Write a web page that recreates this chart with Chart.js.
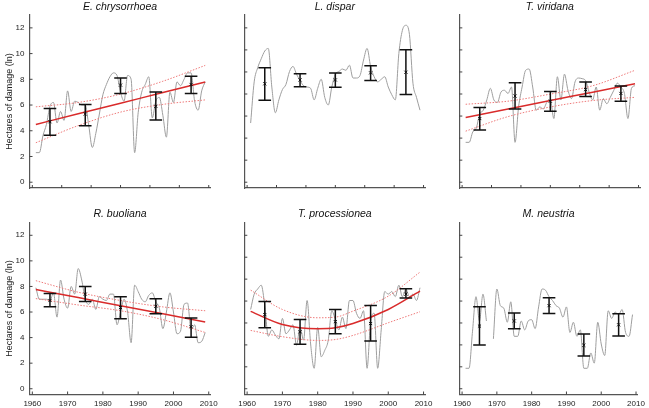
<!DOCTYPE html>
<html>
<head>
<meta charset="utf-8">
<script src="https://cdn.jsdelivr.net/npm/chart.js@4.4.1/dist/chart.umd.min.js"></script>
<style>
  body { margin: 0; background: #fff; }
  #wrap { position: relative; width: 649px; height: 408px; }
  #wrap canvas { position: absolute; left: 0; top: 0; }
</style>
</head>
<body>
<div id="wrap"></div>
<script>
// yearly values, ln(hectares of damage)
const years = [1961,1962,1963,1964,1965,1966,1967,1968,1969,1970,
               1971,1972,1973,1974,1975,1976,1977,1978,1979,1980,
               1981,1982,1983,1984,1985,1986,1987,1988,1989,1990,
               1991,1992,1993,1994,1995,1996,1997,1998,1999,2000,
               2001,2002,2003,2004,2005,2006,2007,2008,2009];

const titles = ['E. chrysorrhoea', 'L. dispar', 'T. viridana',
                'R. buoliana', 'T. processionea', 'M. neustria'];

const chrysorrhoea = [2.3,2.3,3.6,4.5,5.9,6.2,4.6,5.5,4.8,7.1,
                      5.5,6.3,6.2,6.0,6.0,4.4,2.7,3.8,5.3,6.8,
                      7.6,8.2,8.5,8.3,7.0,6.3,8.3,8.0,2.3,5.4,
                      7.0,7.6,8.2,5.0,6.3,6.6,5.2,3.5,7.0,6.2,
                      7.8,7.5,8.0,8.5,8.5,6.3,5.6,7.1,7.8];
const dispar = [4.6,7.8,8.9,9.6,10.2,10.4,7.4,5.4,6.4,7.2,
                7.6,8.6,9.0,8.4,7.9,7.5,7.4,7.3,6.4,7.3,
                8.0,6.6,6.0,7.4,8.4,8.6,8.8,8.7,9.1,8.1,
                8.1,8.3,9.5,10.4,9.0,8.2,7.8,8.0,8.2,7.4,
                6.8,6.4,10.0,11.8,12.2,11.5,7.7,6.6,5.6];
const viridana = [3.1,3.1,3.9,4.2,5.3,5.6,6.4,7.3,6.4,6.2,
                  7.0,7.15,6.9,7.4,3.1,5.85,7.4,8.7,8.8,7.4,
                  5.6,5.85,5.7,6.2,6.4,4.95,8.2,6.4,8.4,7.15,
                  6.5,7.8,8.1,8.05,7.9,7.0,6.4,7.4,5.6,6.5,
                  6.1,6.6,7.15,7.7,7.4,6.9,4.95,7.3,7.5];
const buoliana = [7.9,7.0,7.0,7.0,6.9,7.5,5.6,8.5,7.0,6.3,
                  8.0,7.4,9.4,8.5,7.0,6.6,7.0,6.2,7.2,7.0,
                  6.9,7.4,7.4,5.0,6.0,7.0,6.0,3.6,8.1,7.6,
                  7.0,6.8,7.3,7.5,6.8,6.3,4.7,6.0,7.5,6.0,
                  4.3,4.5,6.6,6.7,4.6,5.0,3.6,3.7,4.4];
const processionea = [6.2,7.4,7.8,8.1,6.5,4.1,4.6,4.2,3.9,5.5,
                      4.3,4.6,5.0,3.4,4.8,3.8,6.9,3.5,1.6,4.8,
                      2.5,3.0,3.8,6.1,5.4,4.6,5.6,4.7,6.9,6.9,
                      5.9,5.5,6.1,1.6,5.3,5.9,1.6,4.6,7.6,7.4,
                      7.6,7.2,8.1,7.2,7.8,7.2,7.4,6.9,7.9];
const neustria = [1.6,1.6,4.5,7.2,5.3,7.4,5.3,null,3.9,7.8,
                  6.5,6.3,5.2,6.8,4.1,4.1,5.3,4.6,5.3,5.4,
                  4.7,6.4,7.8,7.7,7.2,6.9,6.5,6.3,5.6,6.4,
                  4.4,5.2,4.1,4.6,1.6,1.6,2.8,2.0,5.2,3.5,
                  2.6,6.1,5.5,6.0,5.8,6.2,4.4,4.1,5.8];
const series = [chrysorrhoea, dispar, viridana, buoliana, processionea, neustria];

// decade means with error bars
const decades = [1965, 1975, 1985, 1995, 2005];
const decMean = [[4.7,5.3,7.55,5.9,7.6], [7.65,7.95,7.95,8.5,8.55], [4.95,6.7,6.3,7.2,6.9],
                 [6.9,7.4,6.35,6.45,4.85], [5.8,4.45,5.25,5.1,7.4], [4.9,5.3,6.5,3.4,5.0]];
const decLow  = [[3.66,4.39,6.89,4.83,6.89], [6.37,7.43,7.38,7.9,6.81], [4.05,5.7,5.52,6.66,6.3],
                 [6.41,6.83,5.47,5.86,4.02], [4.77,3.47,4.3,3.73,7.09], [3.42,4.69,5.89,2.56,4.12]];
const decHigh = [[5.73,6.04,8.1,7.02,8.23], [8.9,8.44,8.49,9.06,10.3], [5.8,7.74,7.05,7.8,7.48],
                 [7.45,8.0,7.19,7.04,5.53], [6.83,5.42,6.2,6.51,7.82], [6.41,5.92,7.11,4.28,5.86]];

// trend fits and confidence bands (null = no fit)
const fitYears = [null, null, null, null, null, null];
fitYears[0] = [1961, 1973, 1985, 1997, 2009];
fitYears[2] = [1961, 1973, 1985, 1997, 2009];
fitYears[3] = [1961, 1973, 1985, 1997, 2009];
fitYears[4] = [1961, 1970, 1980, 1985, 1990, 2000, 2009];
const fitMid = [[4.49,5.32,6.14,6.97,7.79], null, [5.03,5.69,6.35,7.0,7.66],
                [7.76,7.13,6.49,5.86,5.22], [6.05,5.03,4.7,4.77,5.1,6.2,7.63], null];
const fitUp  = [[5.86,6.2,6.85,7.85,9.08], null, [6.06,6.3,6.85,7.5,8.7],
                [8.45,7.55,6.9,6.4,6.1], [7.71,6.2,5.55,5.6,6.07,7.24,9.12], null];
const fitLo  = [[3.07,4.4,5.45,6.05,6.4], null, [3.97,5.1,5.85,6.35,6.6],
                [7.05,6.55,6.1,5.4,4.4], [4.56,4.07,3.78,3.85,4.17,5.16,6.02], null];

const yTickLabels = [0, 2, 4, 6, 8, 10, 12];
const yTicksBare = [0, 1.714, 3.429, 5.143, 6.857, 8.571, 10.286, 12];
const xTickLabels = [1960, 1970, 1980, 1990, 2000, 2010];
const xTicksBare = [1960, 1968.33, 1976.67, 1985, 1993.33, 2001.67, 2010];

// panel geometry
const colLeft = [29.5, 244.3, 459.3];
const plotW = 181;
const rowTop = [15, 222.5];
const rowBottom = [188, 394.5];

Chart.defaults.font.family = '"Liberation Sans", Arial, sans-serif';
Chart.defaults.color = '#222';

const panelDecor = {
    id: 'panelDecor',
    afterDatasetsDraw(chart, args, opts) {
        const p = opts.idx;
        const { ctx, scales: { x, y } } = chart;
        ctx.save();
        ctx.strokeStyle = '#111';
        ctx.lineWidth = 1.5;
        decades.forEach((yr, k) => {
            const px = x.getPixelForValue(yr);
            const top = y.getPixelForValue(decHigh[p][k]);
            const bot = y.getPixelForValue(decLow[p][k]);
            ctx.beginPath();
            ctx.moveTo(px, top); ctx.lineTo(px, bot);
            ctx.moveTo(px - 6.3, top); ctx.lineTo(px + 6.3, top);
            ctx.moveTo(px - 6.3, bot); ctx.lineTo(px + 6.3, bot);
            ctx.stroke();
        });
        ctx.restore();
    },
    afterDraw(chart, args, opts) {
        const p = opts.idx;
        const { ctx, chartArea, scales: { x, y } } = chart;
        ctx.save();
        // inward tick marks
        ctx.strokeStyle = '#444';
        ctx.lineWidth = 1;
        ctx.beginPath();
        x.ticks.forEach(t => {
            const px = x.getPixelForValue(t.value);
            ctx.moveTo(px, chartArea.bottom); ctx.lineTo(px, chartArea.bottom - 3);
        });
        y.ticks.forEach(t => {
            const py = y.getPixelForValue(t.value);
            ctx.moveTo(chartArea.left, py); ctx.lineTo(chartArea.left + 3, py);
        });
        ctx.stroke();
        // panel title
        ctx.fillStyle = '#111';
        ctx.font = 'italic 10.5px "Liberation Sans", Arial, sans-serif';
        ctx.textAlign = 'center';
        ctx.textBaseline = 'middle';
        ctx.fillText(titles[p], (chartArea.left + chartArea.right) / 2, chartArea.top - 8);
        ctx.restore();
    }
};

const wrap = document.getElementById('wrap');

for (let p = 0; p < 6; p++) {
    const col = p % 3, row = Math.floor(p / 3);
    const left = colLeft[col], right = colLeft[col] + plotW;
    const canvas = document.createElement('canvas');
    canvas.width = 649; canvas.height = 408;
    canvas.style.width = '649px'; canvas.style.height = '408px';
    wrap.appendChild(canvas);

    const datasets = [];
    datasets.push({
        data: decades.map((yr, k) => ({ x: yr, y: decMean[p][k] })),
        showLine: false,
        pointStyle: 'crossRot',
        pointRadius: 2.2,
        pointBorderWidth: 1,
        pointBorderColor: '#111',
        order: 0
    });
    if (fitMid[p]) {
        datasets.push({
            data: fitYears[p].map((yr, k) => ({ x: yr, y: fitMid[p][k] })),
            borderColor: '#d92b2b', borderWidth: 1.5, pointRadius: 0,
            cubicInterpolationMode: 'monotone', order: 1
        });
        [fitUp[p], fitLo[p]].forEach(band => {
            datasets.push({
                data: fitYears[p].map((yr, k) => ({ x: yr, y: band[k] })),
                borderColor: '#ee7a7a', borderWidth: 1, borderDash: [1.5, 1.5],
                pointRadius: 0, cubicInterpolationMode: 'monotone', order: 2
            });
        });
    }
    datasets.push({
        data: years.map((yr, k) => ({ x: yr, y: series[p][k] })),
        borderColor: '#9e9e9e', borderWidth: 1, pointRadius: 0,
        cubicInterpolationMode: 'monotone', spanGaps: false, order: 3
    });

    new Chart(canvas, {
        type: 'line',
        data: { datasets },
        options: {
            responsive: false,
            animation: false,
            events: [],
            layout: {
                autoPadding: false,
                padding: { left: left - 24, right: 649 - right, top: rowTop[row], bottom: 408 - rowBottom[row] - 20 }
            },
            scales: {
                x: {
                    type: 'linear', min: 1959.2, max: 2010.5,
                    afterBuildTicks: s => { s.ticks = (row === 1 ? xTickLabels : xTicksBare).map(v => ({ value: v })); },
                    afterFit: s => { s.height = 20; },
                    grid: { display: false, drawTicks: false },
                    border: { display: true, color: '#555', width: 1.2 },
                    ticks: { display: row === 1, padding: 4, maxRotation: 0, autoSkip: false,
                             font: { size: 8 }, callback: v => String(v) }
                },
                y: {
                    type: 'linear', min: -0.45, max: 13,
                    afterBuildTicks: s => { s.ticks = (col === 0 ? yTickLabels : yTicksBare).map(v => ({ value: v })); },
                    afterFit: s => { s.width = 24; },
                    grid: { display: false, drawTicks: false },
                    border: { display: true, color: '#555', width: 1.2 },
                    ticks: { display: col === 0, padding: 5, autoSkip: false,
                             font: { size: 8 }, callback: v => String(v) },
                    title: { display: col === 0, text: 'Hectares of damage (ln)',
                             font: { size: 9, lineHeight: 1 }, padding: 0, color: '#222' }
                }
            },
            plugins: {
                legend: { display: false },
                tooltip: { enabled: false },
                panelDecor: { idx: p }
            }
        },
        plugins: [panelDecor]
    });
}
</script>
</body>
</html>
